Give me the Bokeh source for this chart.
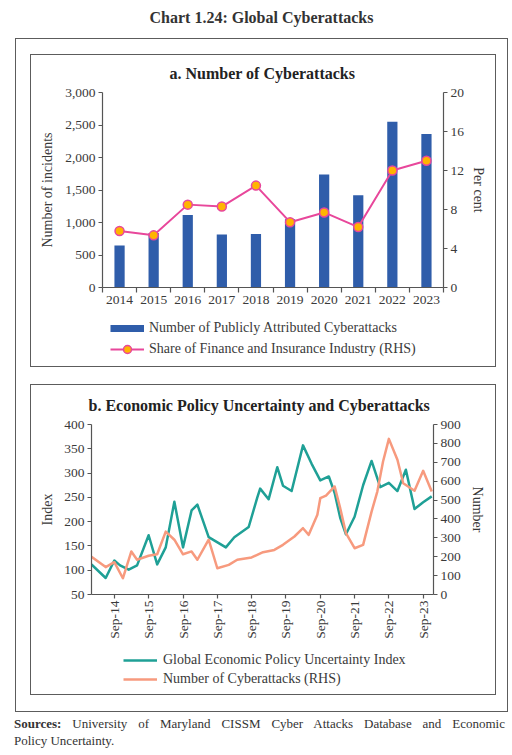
from datetime import datetime
from bokeh.plotting import figure
from bokeh.models import (Range1d, LinearAxis, FixedTicker, NumeralTickFormatter, Legend, LegendItem,
                          Div, DatetimeTickFormatter, ColumnDataSource, Spacer)
from bokeh.layouts import column, row
from bokeh.embed import file_html
from bokeh.resources import INLINE

# ---------------- data: panel a ----------------
years = ["2014", "2015", "2016", "2017", "2018", "2019", "2020", "2021", "2022", "2023"]
incidents = [645, 840, 1115, 815, 825, 1050, 1740, 1420, 2550, 2360]
finance_share = [5.8, 5.35, 8.5, 8.3, 10.45, 6.7, 7.7, 6.2, 12.0, 13.0]
left_ticks_a = [0, 500, 1000, 1500, 2000, 2500, 3000]
right_ticks_a = [0, 4, 8, 12, 16, 20]

# ---------------- data: panel b ----------------
epu_dates = ["2014-01", "2014-06", "2014-09", "2014-11", "2015-02", "2015-05", "2015-09", "2015-12",
             "2016-03", "2016-06", "2016-09", "2016-12", "2017-02", "2017-06", "2017-12", "2018-03",
             "2018-08", "2018-11", "2018-12", "2019-03", "2019-06", "2019-08", "2019-11", "2020-03",
             "2020-06", "2020-09", "2020-12", "2021-02", "2021-04", "2021-06", "2021-09", "2021-12",
             "2022-03", "2022-06", "2022-09", "2022-12", "2023-03", "2023-06", "2023-09", "2023-12"]
epu_index = [112, 84, 120, 110, 101, 110, 172, 112,
             147, 241, 147, 223, 235, 168, 147, 168,
             189, 250, 268, 246, 312, 274, 263, 357,
             319, 285, 293, 259, 208, 174, 210, 275,
             325, 271, 280, 263, 307, 226, 240, 252]
cyber_dates = ["2014-01", "2014-06", "2014-09", "2014-12", "2015-03", "2015-05", "2015-09", "2015-12",
               "2016-03", "2016-06", "2016-09", "2016-12", "2017-02", "2017-06", "2017-09", "2018-01",
               "2018-04", "2018-09", "2019-01", "2019-05", "2019-08", "2019-12", "2020-03", "2020-05",
               "2020-08", "2020-09", "2020-11", "2021-02", "2021-04", "2021-06", "2021-09", "2021-12",
               "2022-03", "2022-05", "2022-07", "2022-09", "2022-12", "2023-02", "2023-06", "2023-09",
               "2023-12"]
cyber_count = [200, 145, 171, 86, 228, 184, 205, 213,
               333, 290, 213, 228, 184, 290, 139, 157,
               184, 196, 224, 236, 263, 307, 351, 316,
               422, 510, 524, 572, 457, 325, 245, 263,
               439, 545, 704, 824, 713, 589, 549, 655,
               545]
left_ticks_b = [50, 100, 150, 200, 250, 300, 350, 400]
right_ticks_b = [0, 100, 200, 300, 400, 500, 600, 700, 800, 900]
tick_dates_b = ["2014-09", "2015-09", "2016-09", "2017-09", "2018-09",
                "2019-09", "2020-09", "2021-09", "2022-09", "2023-09"]

legend_a_labels = ["Number of Publicly Attributed Cyberattacks", "Share of Finance and Insurance Industry (RHS)"]
legend_b_labels = ["Global Economic Policy Uncertainty Index", "Number of Cyberattacks (RHS)"]

# ---------------- styles ----------------
FONT = "Liberation Serif"
BLUE = "#2F5DAA"
PINK = "#E8479B"
ORANGE = "#FFB400"
TEAL = "#1FA096"
SALMON = "#F79A7E"
AXIS = "#555555"
TXT = "#3a3a3a"


def to_dt(s):
    return datetime.strptime(s, "%Y-%m")


def style_axis(ax, label_size="13.5px"):
    ax.axis_line_color = AXIS
    ax.axis_line_width = 1.2
    ax.major_tick_line_color = AXIS
    ax.major_tick_line_width = 1.2
    ax.minor_tick_line_color = None
    ax.major_tick_in = 0
    ax.major_tick_out = 4
    ax.major_label_text_font = FONT
    ax.major_label_text_font_size = label_size
    ax.major_label_text_color = TXT
    ax.major_label_standoff = 3
    ax.axis_label_text_font = FONT
    ax.axis_label_text_font_size = "14px"
    ax.axis_label_text_font_style = "normal"
    ax.axis_label_text_color = TXT


def style_title(p):
    p.title.text_font = FONT
    p.title.text_font_size = "16px"
    p.title.text_font_style = "bold"
    p.title.text_color = "#222222"
    p.title.align = "left"
    p.title.standoff = 22


def legend_figure(height):
    # a strip below a chart that only holds its legend; its swatch renderers use the chart's
    # own data, which lies outside this strip's ranges so that only the legend shows
    f = figure(width=466, height=height, x_range=Range1d(0, 1), y_range=Range1d(-3, -2),
               output_backend="svg", toolbar_location=None, x_axis_location=None, y_axis_location=None,
               min_border=0)
    f.outline_line_color = None
    f.border_fill_color = None
    f.xgrid.visible = False
    f.ygrid.visible = False
    return f


def style_legend(leg):
    leg.label_text_font = FONT
    leg.label_text_font_size = "14px"
    leg.label_text_color = TXT
    leg.border_line_color = None
    leg.background_fill_alpha = 0
    leg.glyph_width = 34
    leg.padding = 0
    leg.margin = 0
    leg.orientation = "vertical"


# ---------------- panel a ----------------
n = len(years)
xc = [i + 0.5 for i in range(n)]
src_a = ColumnDataSource(dict(x=xc, year=years, inc=incidents, share=finance_share))

pa = figure(frame_width=341, frame_height=195, x_range=Range1d(0, n), y_range=Range1d(0, 3000),
            output_backend="svg", toolbar_location=None,
            min_border_left=72, min_border_right=53, min_border_top=39, min_border_bottom=26,
            title="a. Number of Cyberattacks")
pa.extra_y_ranges = {"pct": Range1d(0, 20)}
pa.outline_line_color = None
pa.border_fill_color = None
pa.xgrid.visible = False
pa.ygrid.visible = False
style_title(pa)
pa.title.offset = 67

bars = pa.vbar(x="x", top="inc", width=0.3, source=src_a, fill_color=BLUE, line_color=None)
ln = pa.line(x="x", y="share", source=src_a, y_range_name="pct", line_color=PINK, line_width=2)
mk = pa.scatter(x="x", y="share", source=src_a, y_range_name="pct", size=9,
                fill_color=ORANGE, line_color=PINK, line_width=1.5)

xa = pa.xaxis[0]
style_axis(xa)
xa.ticker = FixedTicker(ticks=xc, minor_ticks=list(range(n + 1)))
xa.major_label_overrides = {c: y for c, y in zip(xc, years)}
xa.major_tick_out = 0
xa.minor_tick_line_color = AXIS
xa.minor_tick_line_width = 1.2
xa.minor_tick_out = 5
xa.minor_tick_in = 0

ya = pa.yaxis[0]
style_axis(ya)
ya.ticker = FixedTicker(ticks=left_ticks_a)
ya.formatter = NumeralTickFormatter(format="0,0")
ya.axis_label = "Number of incidents"
ya.axis_label_standoff = 7

ra = LinearAxis(y_range_name="pct", ticker=FixedTicker(ticks=right_ticks_a), axis_label="Per cent")
style_axis(ra)
ra.axis_label_standoff = 4
pa.add_layout(ra, "right")

la = legend_figure(56)
sw_bar = la.line(x="x", y="inc", source=src_a, line_color=BLUE, line_width=7, line_cap="butt")
sw_line = la.line(x="x", y="share", source=src_a, line_color=PINK, line_width=2)
sw_mk = la.scatter(x="x", y="share", source=src_a, size=9, fill_color=ORANGE, line_color=PINK, line_width=1.5)
leg_a = Legend(items=[LegendItem(label=legend_a_labels[0], renderers=[sw_bar]),
                      LegendItem(label=legend_a_labels[1], renderers=[sw_line, sw_mk])])
style_legend(leg_a)
leg_a.glyph_height = 20
leg_a.label_height = 20
leg_a.spacing = 1
leg_a.label_standoff = 5
leg_a.location = (80, 10)
la.add_layout(leg_a)

# ---------------- panel b ----------------
src_epu = ColumnDataSource(dict(x=[to_dt(d) for d in epu_dates], y=epu_index))
src_cyb = ColumnDataSource(dict(x=[to_dt(d) for d in cyber_dates], y=cyber_count))

pb = figure(frame_width=342, frame_height=170, x_axis_type="datetime",
            x_range=Range1d(datetime(2014, 1, 1), datetime(2023, 12, 20)),
            y_range=Range1d(50, 400), output_backend="svg", toolbar_location=None,
            min_border_left=61, min_border_right=63, min_border_top=40, min_border_bottom=50,
            title="b. Economic Policy Uncertainty and Cyberattacks")
pb.extra_y_ranges = {"num": Range1d(0, 900)}
pb.outline_line_color = None
pb.border_fill_color = None
pb.xgrid.visible = False
pb.ygrid.visible = False
style_title(pb)
pb.title.offset = -3

l_epu = pb.line(x="x", y="y", source=src_epu, line_color=TEAL, line_width=2.5, line_join="round")
l_cyb = pb.line(x="x", y="y", source=src_cyb, y_range_name="num", line_color=SALMON, line_width=2.5,
                line_join="round")

xb = pb.xaxis[0]
style_axis(xb)
xb.ticker = FixedTicker(ticks=[to_dt(d).timestamp() * 1000 for d in tick_dates_b])
xb.formatter = DatetimeTickFormatter(years="%b-%y", months="%b-%y", days="%b-%y")
xb.major_label_orientation = 3.14159265 / 2
xb.major_label_standoff = 2

yb = pb.yaxis[0]
style_axis(yb)
yb.ticker = FixedTicker(ticks=left_ticks_b)
yb.axis_label = "Index"
yb.axis_label_standoff = 6

rb = LinearAxis(y_range_name="num", ticker=FixedTicker(ticks=right_ticks_b), axis_label="Number")
style_axis(rb)
rb.axis_label_standoff = 6
pb.add_layout(rb, "right")

lb = legend_figure(54)
sw_teal = lb.line(x="x", y="y", source=src_epu, line_color=TEAL, line_width=2.5)
sw_salmon = lb.line(x="x", y="y", source=src_cyb, line_color=SALMON, line_width=2.5)
leg_b = Legend(items=[LegendItem(label=legend_b_labels[0], renderers=[sw_teal]),
                      LegendItem(label=legend_b_labels[1], renderers=[sw_salmon])])
style_legend(leg_b)
leg_b.glyph_height = 16
leg_b.label_height = 16
leg_b.spacing = 3
leg_b.label_standoff = 6
leg_b.location = (93, 11)
lb.add_layout(leg_b)

# page frame: main title, boxes round the whole chart and each panel, and the source note
BOX = "position:absolute;box-sizing:border-box;border:1.5px solid #5c5c5c;pointer-events:none;z-index:50;"
overlay = (
    '<div style="position:relative;width:510px;height:30px;">'
    '<div style="position:absolute;left:15px;top:8px;width:493px;text-align:center;'
    'font-family:\'Liberation Serif\';font-size:16px;font-weight:bold;color:#333;line-height:20px;">'
    'Chart 1.24: Global Cyberattacks</div>'
    f'<div style="{BOX}left:15px;top:38px;width:493px;height:674px;"></div>'
    f'<div style="{BOX}left:30px;top:54px;width:466px;height:313px;"></div>'
    f'<div style="{BOX}left:30px;top:384px;width:466px;height:311px;"></div>'
    '<div style="position:absolute;left:14px;top:716px;width:491px;font-family:\'Liberation Serif\';'
    'font-size:13px;color:#333;line-height:16.5px;">'
    '<div style="text-align:justify;text-align-last:justify;">'
    '<b>Sources:</b> University of Maryland CISSM Cyber Attacks Database and Economic</div>'
    '<div>Policy Uncertainty.</div></div>'
    '</div>'
)
frame_div = Div(text=overlay, width=510, height=30, margin=(0, 0, 0, 0))

layout = column(frame_div,
                Spacer(height=21),
                row(Spacer(width=30), pa),
                row(Spacer(width=30), la),
                Spacer(height=14),
                row(Spacer(width=30), pb),
                row(Spacer(width=30), lb))

open("out.html", "w").write(file_html(layout, INLINE))
